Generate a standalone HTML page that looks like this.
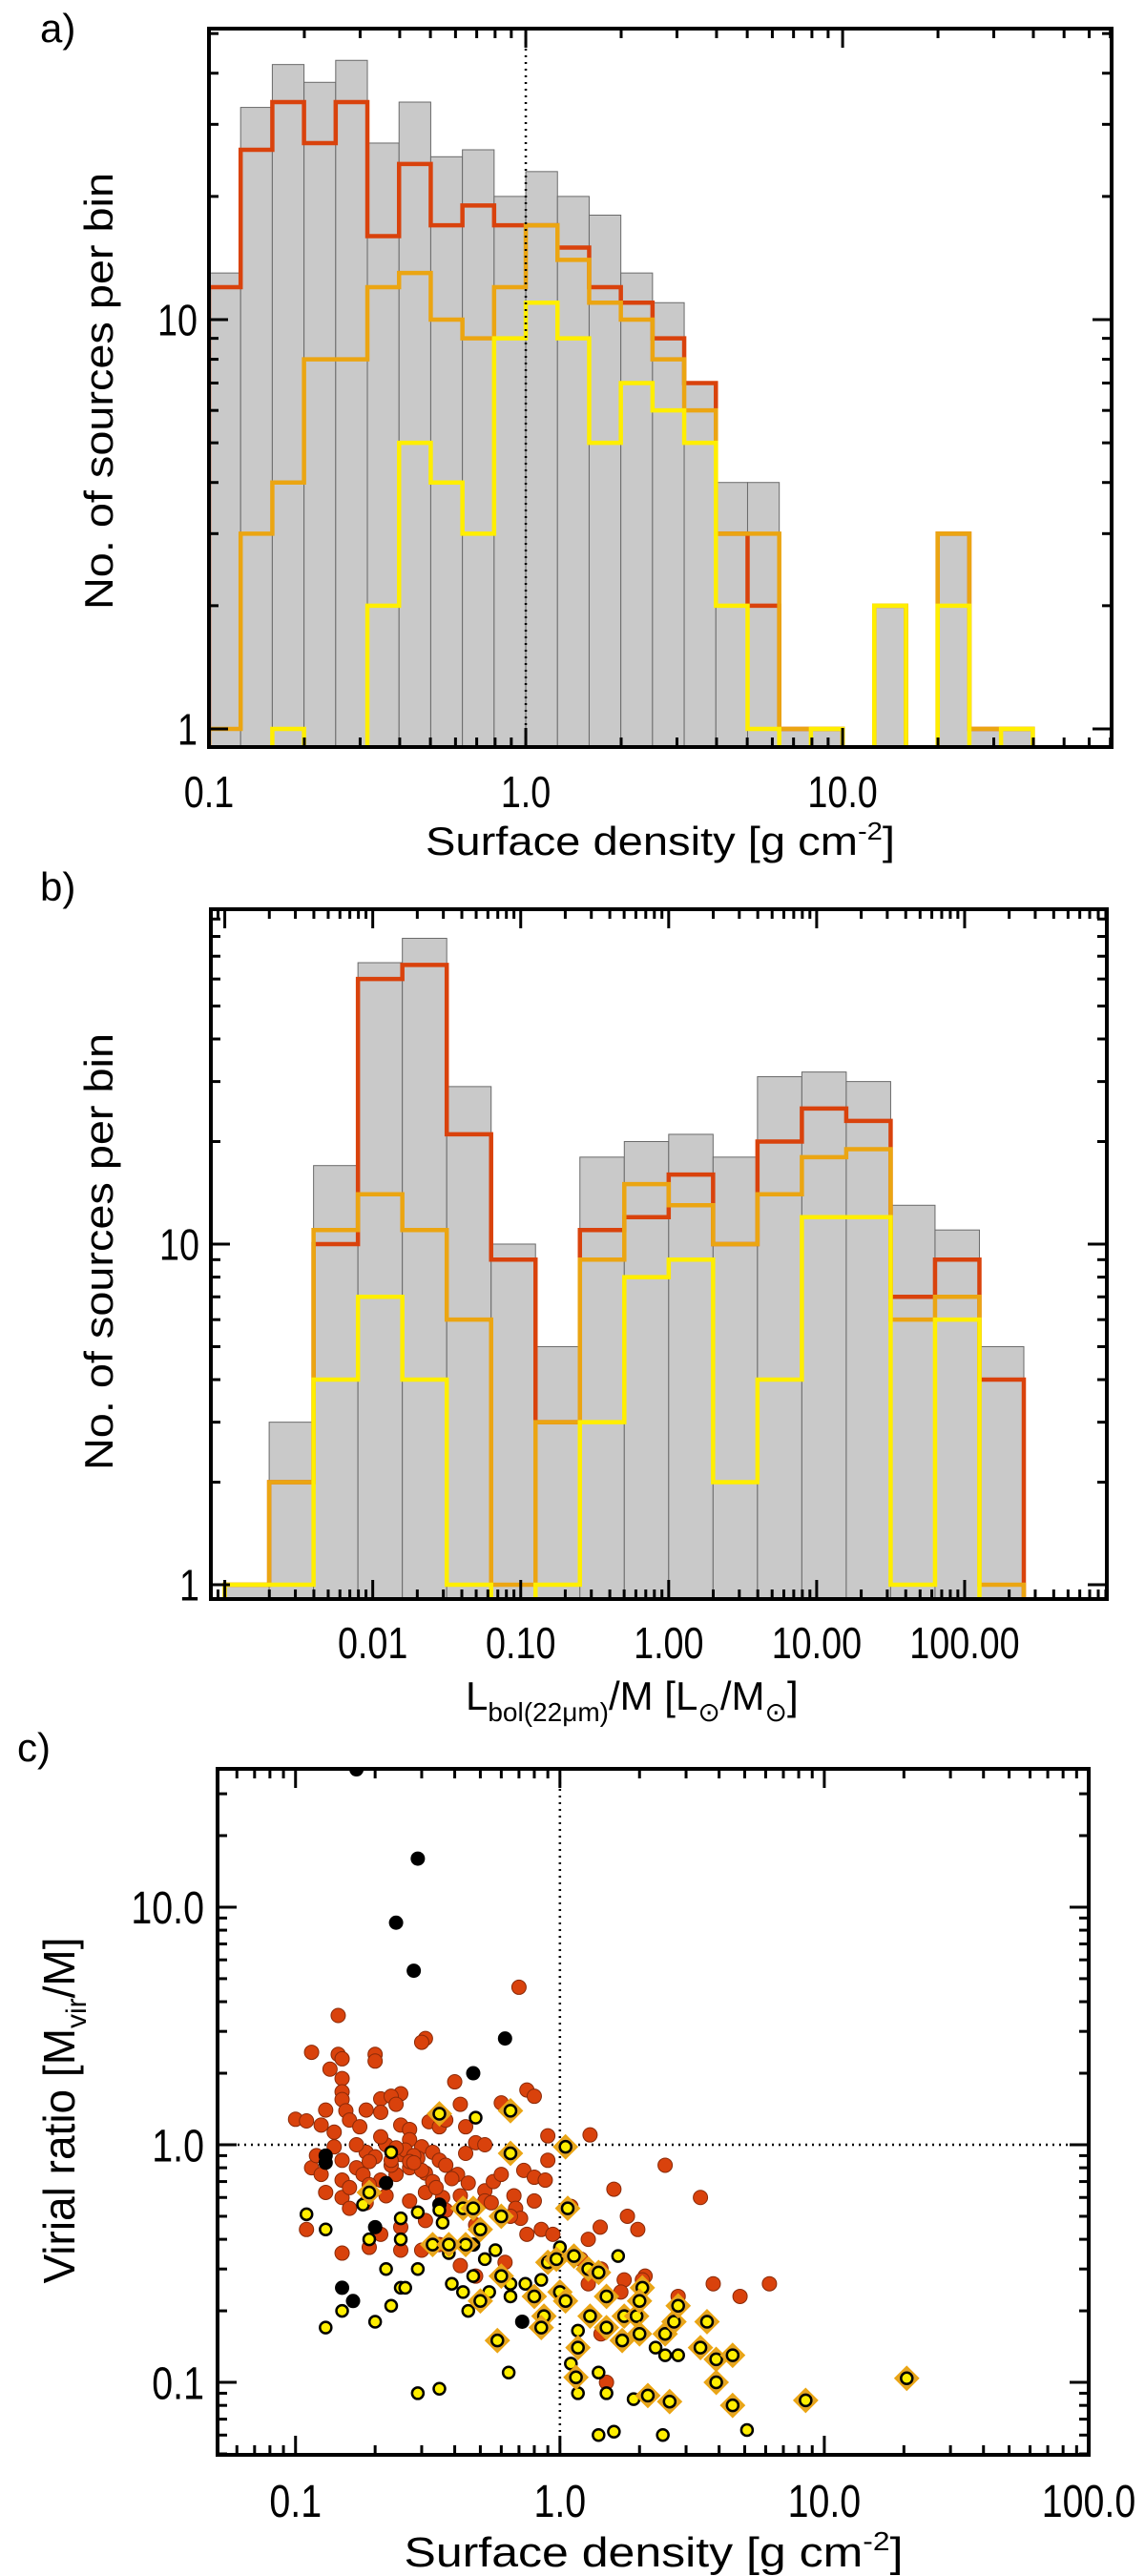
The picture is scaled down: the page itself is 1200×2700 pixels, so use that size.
<!DOCTYPE html>
<html><head><meta charset="utf-8"><style>
html,body{margin:0;padding:0;background:#fff;}
svg{display:block;}
text{font-family:"Liberation Sans",Arial,sans-serif;fill:#000;}
</style></head><body>
<svg id="fig" width="1200" height="2700" viewBox="0 0 1200 2700" xmlns="http://www.w3.org/2000/svg">
<defs>
<clipPath id="clipA"><rect x="219" y="30" width="946" height="753"/></clipPath>
<clipPath id="clipB"><rect x="221" y="953" width="939" height="723"/></clipPath>
<clipPath id="clipC"><rect x="228" y="1854" width="913" height="719"/></clipPath>
</defs>
<g id="panelA"></g>
<g id="panelB"></g>
<g id="panelC"></g>
<text x="42" y="44" font-size="42">a)</text>
<text x="42" y="944" font-size="42">b)</text>
<text x="18" y="1846" font-size="42">c)</text>
<text x="0" y="0" font-size="42" text-anchor="middle" transform="translate(118,410) rotate(-90)" textLength="458" lengthAdjust="spacingAndGlyphs">No. of sources per bin</text>
<text x="692" y="896" font-size="42" text-anchor="middle" textLength="492" lengthAdjust="spacingAndGlyphs">Surface density [g cm<tspan font-size="26" dy="-16">-2</tspan><tspan dy="16">]</tspan></text>
<text x="0" y="0" font-size="42" text-anchor="middle" transform="translate(118,1312) rotate(-90)" textLength="458" lengthAdjust="spacingAndGlyphs">No. of sources per bin</text>
<text x="488" y="1792" font-size="42">L<tspan font-size="28" dy="12">bol(22μm)</tspan><tspan dy="-12">/M [L</tspan><tspan font-size="28" dy="12">⊙</tspan><tspan dy="-12">/M</tspan><tspan font-size="28" dy="12">⊙</tspan><tspan dy="-12">]</tspan></text>
<text x="0" y="0" font-size="46" text-anchor="middle" transform="translate(78,2212) rotate(-90)">Virial ratio [M<tspan font-size="30" dy="12">vir</tspan><tspan dy="-12">/M]</tspan></text>
<text x="685" y="2690" font-size="44" text-anchor="middle" textLength="523" lengthAdjust="spacingAndGlyphs">Surface density [g cm<tspan font-size="28" dy="-17">-2</tspan><tspan dy="17">]</tspan></text>
</svg>
<script>
// ---------- Panel a data (bins 0.1 dex from 0.1 g cm^-2) ----------
const aBinStartLog = -1;
const aBinWidthLog = 0.1;
const aAll    = [13,33,42,38,43,27,34,25,26,20,23,20,18,13,11,7,4,4,1,1,0,2,0,3,1,1];
const aRed    = [12,26,34,27,34,16,24,17,19,17,17,15,12,11,9,7,3,2,1,1,0,2,0,3,1,1];
const aOrange = [1,3,4,8,8,12,13,10,9,12,17,14,11,10,8,6,3,3,1,1,0,2,0,3,1,1];
const aYellow = [0,0,1,0,0,2,5,4,3,9,11,9,5,7,6,5,2,1,0,1,0,2,0,2,0,1];
const aXTickVals = [0.1,1,10];
const aXTickLabels = ["0.1","1.0","10.0"];
const aYTickVals = [1,10];
const aYTickLabels = ["1","10"];

// ---------- Panel b data (bins 0.3 dex from 0.001) ----------
const bBinStartLog = -3;
const bBinWidthLog = 0.3;
const bAll    = [1,3,17,67,79,29,10,5,18,20,21,18,31,32,30,13,11,5];
const bRed    = [1,2,10,60,66,21,9,3,11,12,16,10,20,25,23,7,9,4];
const bOrange = [1,2,11,14,11,6,1,3,9,15,13,10,14,18,19,6,7,1];
const bYellow = [1,1,4,7,4,1,0,1,3,8,9,2,4,12,12,1,6,0];
const bXTickVals = [0.01,0.1,1,10,100];
const bXTickLabels = ["0.01","0.10","1.00","10.00","100.00"];
const bYTickVals = [1,10];
const bYTickLabels = ["1","10"];

// ---------- Panel c data ----------
const cBlackX = [0.17,0.29,0.24,0.28,0.62,0.47,0.13,0.13,0.2,0.15,0.165,0.72,0.22,0.35,0.47];
const cBlackY = [38,16,8.6,5.4,2.8,2.0,0.84,0.9,0.45,0.25,0.22,0.18,0.69,0.56,0.38];
const cRedX = [0.7,0.145,0.31,0.3,0.115,0.145,0.15,0.2,0.2,0.135,0.4,0.15,0.15,0.15,0.75,0.8,0.25,0.21,0.23,0.6,0.1,0.11,0.13,0.155,0.185,0.21,0.125,0.14,0.16,0.175,0.25,0.27,0.32,0.35,0.37,0.44,0.48,0.52,0.9,1.3,0.115,0.125,0.15,0.17,0.185,0.2,0.22,0.25,0.27,0.3,0.33,0.35,0.15,0.18,0.21,0.24,0.27,0.31,0.37,0.41,0.45,0.52,0.73,0.8,0.88,0.13,0.15,0.16,0.185,0.22,0.27,0.31,0.36,0.42,0.52,0.67,0.68,0.11,0.15,0.19,0.21,0.25,0.25,0.3,0.35,0.42,0.48,0.71,0.75,0.85,0.94,1.28,1.42,1.8,1.97,2.5,3.4,2.1,2.05,1.75,1.7,1.28,1.43,2.8,3.8,4.8,6.2,1.43,1.5,0.42,0.24,0.9,0.8,0.48,0.31,0.37,0.19,0.23,0.26,0.29,0.33,0.17,0.21,0.24,0.28,0.3,0.16,0.19,0.12,0.14,0.27,0.34,0.39,0.56,0.6,0.65,0.55,0.62,1.1,1.2,1.6,0.44,0.28,0.23];
const cRedY = [4.6,3.5,2.8,2.7,2.45,2.4,2.3,2.4,2.25,2.08,1.84,1.9,1.67,1.55,1.7,1.6,1.64,1.56,1.6,1.5,1.28,1.26,1.4,1.39,1.4,1.37,1.21,1.13,1.27,1.19,1.21,1.16,1.25,1.19,1.27,1.19,1.02,1.0,1.09,1.1,0.8,0.75,0.86,0.8,0.93,0.89,1.0,0.91,1.05,0.98,0.93,0.86,0.71,0.75,0.71,0.75,0.8,0.76,0.82,0.75,0.69,0.64,0.78,0.73,0.71,0.63,0.6,0.54,0.57,0.61,0.58,0.63,0.6,0.61,0.58,0.61,0.54,0.44,0.35,0.37,0.42,0.45,0.36,0.36,0.38,0.31,0.28,0.49,0.42,0.44,0.42,0.4,0.45,0.5,0.44,0.82,0.6,0.28,0.27,0.27,0.24,0.26,0.3,0.23,0.26,0.23,0.26,0.16,0.1,1.48,1.48,0.86,0.58,0.46,0.48,0.53,0.85,0.82,0.95,0.88,0.7,1.0,1.08,0.97,0.9,0.78,0.66,0.68,0.9,0.98,0.85,0.66,0.72,0.7,0.75,0.5,0.57,0.32,0.55,0.33,0.65,0.92,0.84,0.86];
const cYellowX = [0.11,0.13,0.13,0.15,0.2,0.23,0.22,0.25,0.26,0.25,0.25,0.29,0.19,0.18,0.23,0.29,0.35,0.36,0.38,0.39,0.43,0.45,0.47,0.52,0.54,0.57,0.65,0.65,0.64,0.48,0.29,0.35,0.74,0.85,1.0,1.66,1.4,1.1,1.17,1.5,1.9,1.4,1.6,2.45,5.1,2.3,2.5,2.8,1.17];
const cYellowY = [0.51,0.44,0.17,0.2,0.18,0.21,0.3,0.25,0.25,0.4,0.49,0.3,0.4,0.56,0.93,0.52,0.53,0.47,0.35,0.26,0.24,0.2,0.28,0.33,0.24,0.36,0.26,0.23,0.11,1.3,0.09,0.094,0.26,0.27,0.37,0.34,0.11,0.12,0.09,0.09,0.085,0.06,0.062,0.06,0.063,0.14,0.13,0.13,0.165];
const cDiamondX = [0.35,0.65,0.65,1.05,1.07,0.19,0.33,0.43,0.47,0.6,0.5,0.44,0.38,0.9,0.97,1.13,1.28,1.4,1.5,1.3,1.75,1.95,2.05,2.0,1.72,2.0,2.5,2.7,2.8,3.6,3.4,3.9,3.9,4.5,4.5,8.5,20.5,2.6,2.15,1.17,1.15,0.58,0.5,0.6,0.8,0.87,0.85,1.0,1.05,1.5];
const cDiamondY = [1.35,1.39,0.92,0.98,0.54,0.63,0.38,0.54,0.54,0.5,0.44,0.38,0.38,0.32,0.33,0.34,0.3,0.29,0.23,0.19,0.19,0.19,0.25,0.22,0.15,0.16,0.16,0.18,0.21,0.18,0.14,0.125,0.1,0.13,0.08,0.084,0.104,0.083,0.088,0.14,0.105,0.15,0.22,0.28,0.23,0.19,0.17,0.24,0.22,0.17];
const cXTickVals = [0.1,1,10,100];
const cXTickLabels = ["0.1","1.0","10.0","100.0"];
const cYTickVals = [0.1,1,10];
const cYTickLabels = ["0.1","1.0","10.0"];

const NS = "http://www.w3.org/2000/svg";
const RED = "#d9420c", ORANGE = "#eba512", YELLOW = "#ffee00", GRAY = "#c9c9c9";
function mk(tag, attrs, parent){
  const e = document.createElementNS(NS, tag);
  for (const k in attrs) e.setAttribute(k, attrs[k]);
  parent.appendChild(e);
  return e;
}
function makeScale(d0, d1, p0, p1){
  return v => p0 + (Math.log10(v) - d0) / (d1 - d0) * (p1 - p0);
}
function drawAxes(g, F, sx, sy, xr, yr, xTicks, xLabels, yTicks, yLabels, xLabelY, yLabelX, fs, xlabStretch){
  // minor + major ticks
  const xlo = Math.floor(xr[0]), xhi = Math.ceil(xr[1]);
  for (let d = xlo; d <= xhi; d++){
    for (let m = 1; m < 10; m++){
      const v = m * Math.pow(10, d);
      const lv = Math.log10(v);
      if (lv < xr[0] - 1e-6 || lv > xr[1] + 1e-6) continue;
      const len = (m === 1) ? 20 : 10;
      const x = sx(v);
      const t1 = mk("line", {x1:x, y1:F.b, x2:x, y2:F.b - len, stroke:"#000", "stroke-width":3}, g);
      
      
      const t2 = mk("line", {x1:x, y1:F.t, x2:x, y2:F.t + len, stroke:"#000", "stroke-width":3}, g);
      
      
    }
  }
  const ylo = Math.floor(yr[0]), yhi = Math.ceil(yr[1]);
  for (let d = ylo; d <= yhi; d++){
    for (let m = 1; m < 10; m++){
      const v = m * Math.pow(10, d);
      const lv = Math.log10(v);
      if (lv < yr[0] - 1e-6 || lv > yr[1] + 1e-6) continue;
      const len = (m === 1) ? 20 : 10;
      const y = sy(v);
      const t1 = mk("line", {x1:F.l, y1:y, x2:F.l + len, y2:y, stroke:"#000", "stroke-width":3}, g);
      
      
      const t2 = mk("line", {x1:F.r, y1:y, x2:F.r - len, y2:y, stroke:"#000", "stroke-width":3}, g);
      
      
    }
  }
  const fr = mk("rect", {x:F.l, y:F.t, width:F.r - F.l, height:F.b - F.t, fill:"none", stroke:"#000", "stroke-width":4}, g);
  
  
  xTicks.forEach((v, i) => {
    const t = mk("text", {x:sx(v), y:xLabelY, "font-size":fs, "text-anchor":"middle", transform:`translate(${sx(v)},0) scale(${xlabStretch},1) translate(${-sx(v)},0)`}, g);
    t.textContent = xLabels[i];
    
    
  });
  yTicks.forEach((v, i) => {
    const t = mk("text", {x:yLabelX, y:sy(v) + fs * 0.36, "font-size":fs, "text-anchor":"end", transform:`translate(${yLabelX},0) scale(${xlabStretch},1) translate(${-yLabelX},0)`}, g);
    t.textContent = yLabels[i];
    
    
  });
}
function histPanel(g, clipId, F, xr, yr, start, width, all, series, colors, names, xT, xL, yT, yL, xLabelY){
  const sx = makeScale(xr[0], xr[1], F.l, F.r);
  const sy = makeScale(yr[0], yr[1], F.b, F.t);
  const edge = i => F.l + ((start + i * width) - xr[0]) / (xr[1] - xr[0]) * (F.r - F.l);
  const cg = mk("g", {"clip-path":`url(#${clipId})`}, g);
  all.forEach((v, i) => {
    if (v <= 0) return;
    const r = mk("rect", {x:edge(i), y:sy(v), width:edge(i+1) - edge(i), height:F.b - sy(v) + 4, fill:GRAY, stroke:"#6a6a6a", "stroke-width":1}, cg);
    
    
  });
  series.forEach((arr, s) => {
    const yy = v => v > 0 ? sy(v) : F.b + 4;
    let d = `M${edge(0)},${F.b + 4}`;
    arr.forEach((v, i) => { d += ` V${yy(v)} H${edge(i+1)}`; });
    d += ` V${F.b + 4}`;
    const p = mk("path", {d:d, fill:"none", stroke:colors[s], "stroke-width":4.5, "stroke-linejoin":"miter"}, cg);
    
    
  });
  drawAxes(g, F, sx, sy, xr, yr, xT, xL, yT, yL, xLabelY, F.l - 12, 46, 0.82);
  return {sx, sy};
}

// Panel a
const gA = document.getElementById("panelA");
const FA = {l:219, t:30, r:1165, b:783};
const A = histPanel(gA, "clipA", FA, [-1, 1.849], [-0.0443, 1.711], aBinStartLog, aBinWidthLog, aAll,
  [aRed, aOrange, aYellow], [RED, ORANGE, YELLOW], ["histogram-red-series","histogram-orange-series","histogram-yellow-series"],
  aXTickVals, aXTickLabels, aYTickVals, aYTickLabels, 846);
const vA = mk("line", {x1:A.sx(1), y1:FA.t, x2:A.sx(1), y2:FA.b, stroke:"#000", "stroke-width":2.5, "stroke-dasharray":"2,5"}, gA);



// Panel b
const gB = document.getElementById("panelB");
const FB = {l:221, t:953, r:1160, b:1676};
histPanel(gB, "clipB", FB, [-3.094, 2.961], [-0.042, 1.983], bBinStartLog, bBinWidthLog, bAll,
  [bRed, bOrange, bYellow], [RED, ORANGE, YELLOW], ["histogram-red-series","histogram-orange-series","histogram-yellow-series"],
  bXTickVals, bXTickLabels, bYTickVals, bYTickLabels, 1738);

// Panel c
const gC = document.getElementById("panelC");
const FC = {l:228, t:1854, r:1141, b:2573};
const cxr = [-1.295, 2], cyr = [-1.305, 1.582];
const sxC = makeScale(cxr[0], cxr[1], FC.l, FC.r);
const syC = makeScale(cyr[0], cyr[1], FC.b, FC.t);
const cg = mk("g", {"clip-path":"url(#clipC)"}, gC);
const hl = mk("line", {x1:FC.l, y1:syC(1), x2:FC.r, y2:syC(1), stroke:"#000", "stroke-width":2.5, "stroke-dasharray":"2,5"}, cg);


const vl = mk("line", {x1:sxC(1), y1:FC.t, x2:sxC(1), y2:FC.b, stroke:"#000", "stroke-width":2.5, "stroke-dasharray":"2,5"}, cg);


cRedX.forEach((x, i) => {
  const c = mk("circle", {cx:sxC(x), cy:syC(cRedY[i]), r:7.5, fill:RED, stroke:"#8a2a08", "stroke-width":1}, cg);
  
  
});
cBlackX.forEach((x, i) => {
  const c = mk("circle", {cx:sxC(x), cy:syC(cBlackY[i]), r:7.5, fill:"#000"}, cg);
  
  
});
cYellowX.forEach((x, i) => {
  const c = mk("circle", {cx:sxC(x), cy:syC(cYellowY[i]), r:6, fill:YELLOW, stroke:"#000", "stroke-width":2.5}, cg);
  
  
});
cDiamondX.forEach((x, i) => {
  const px = sxC(x), py = syC(cDiamondY[i]);
  const d = mk("polygon", {points:`${px},${py-12} ${px+12},${py} ${px},${py+12} ${px-12},${py}`, fill:"#e2a62a", stroke:ORANGE, "stroke-width":2}, cg);
  
  
  const c = mk("circle", {cx:px, cy:py, r:6, fill:YELLOW, stroke:"#000", "stroke-width":2.5}, cg);
  
  
});
drawAxes(gC, FC, sxC, syC, cxr, cyr, cXTickVals, cXTickLabels, cYTickVals, cYTickLabels, 2638, FC.l - 14, 48, 0.82);
</script>
</body></html>
